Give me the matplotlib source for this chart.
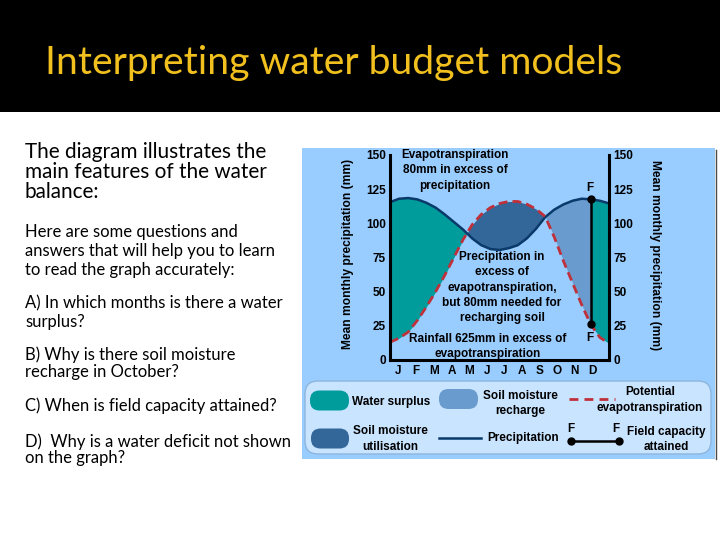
import matplotlib
matplotlib.use("Agg")
import matplotlib.pyplot as plt
from matplotlib.patches import Rectangle, FancyBboxPatch
import numpy as np

# ---------------- data ----------------
month_pos = [0, 0.5, 1, 1.5, 2, 2.5, 3, 3.5, 4, 4.5, 5, 5.5, 6, 6.5, 7, 7.5,
             8, 8.5, 9, 9.5, 10, 10.5, 11, 11.5, 12]
precipitation = [115.5, 118, 118.5, 117.5, 115, 111.5, 106.5, 101, 95.5, 89, 84,
                 81.2, 80.5, 81.8, 84, 89, 96, 104.5, 110, 113.8, 116.5, 118,
                 117.6, 116.5, 114.6]
potential_et = [13, 16, 20.5, 29, 39, 50, 62, 75, 88, 99, 106.5, 111.5, 114.5,
                116, 116, 114, 110.5, 105, 90, 72.5, 56.5, 40.5, 26, 16.5, 12.2]
field_capacity_month = 11
month_labels = ["J", "F", "M", "A", "M", "J", "J", "A", "S", "O", "N", "D"]
month_label_pos = [0.45, 1.42, 2.4, 3.37, 4.35, 5.3, 6.27, 7.25, 8.2, 9.15, 10.12, 11.1]
y_ticks = [0, 25, 50, 75, 100, 125, 150]

title = "Interpreting water budget models"
para1 = ["The diagram illustrates the", "main features of the water", "balance:"]
para2 = [
    ("Here are some questions and", 237),
    ("answers that will help you to learn", 256),
    ("to read the graph accurately:", 274.5),
    ("A) In which months is there a water", 308.5),
    ("surplus?", 327),
    ("B) Why is there soil moisture", 360),
    ("recharge in October?", 377),
    ("C) When is field capacity attained?", 411.5),
    ("D)  Why is a water deficit not shown", 446.5),
    ("on the graph?", 463.5),
]
# measured widths (px) of some reference lines, used to size the font
para2_widths = [("Here are some questions and", 225),
                ("answers that will help you to learn", 263),
                ("A) In which months is there a water", 260),
                ("B) Why is there soil moisture", 210),
                ("C) When is field capacity attained?", 253),
                ("D)  Why is a water deficit not shown", 262)]

# colours
TEAL = "#009B9B"
UTIL = "#336699"
RECH = "#6A9BCE"
PANEL = "#99CCFF"
LEGBG = "#C9E4FF"
NAVY = "#0A3A6A"
RED = "#C0303A"
YELLOW = "#F2C01E"

x = np.array(month_pos, dtype=float)
p = np.array(precipitation, dtype=float)
e = np.array(potential_et, dtype=float)

W, H = 720, 540
fig = plt.figure(figsize=(7.2, 5.4), dpi=100)
fig.patch.set_facecolor("white")

# background pixel-coordinate axes
bg = fig.add_axes([0, 0, 1, 1], zorder=0)
bg.set_xlim(0, W); bg.set_ylim(H, 0); bg.axis("off")
fg = fig.add_axes([0, 0, 1, 1], zorder=3)
fg.set_xlim(0, W); fg.set_ylim(H, 0); fg.axis("off")
fg.patch.set_visible(False)

renderer = fig.canvas.get_renderer()

def fit_size(s, width, **kw):
    t = fig.text(0, 0, s, fontsize=20, **kw)
    w = t.get_window_extent(renderer).width
    t.remove()
    return 20 * width / w

# header
bg.add_patch(Rectangle((0, 0), W, 112, facecolor="black", edgecolor="none"))
ts = fit_size(title, 580, family="Lato")
bg.text(45, 74, title, fontsize=ts, family="Lato", color=YELLOW, va="baseline", ha="left")

# left text
s1 = fit_size(para1[0], 242, family="Lato")
for line, yb in zip(para1, [158.5, 178.5, 198.5]):
    bg.text(25, yb, line, fontsize=s1, family="Lato", va="baseline", ha="left", color="black")
s2 = float(np.median([fit_size(s, w, family="Lato") for s, w in para2_widths]))
for line, yb in para2:
    bg.text(25, yb, line, fontsize=s2, family="Lato", va="baseline", ha="left", color="black")

# panel
bg.add_patch(Rectangle((302, 148), 413, 311, facecolor=PANEL, edgecolor="none"))
bg.plot([715.5, 715.5], [150, 459], color="#4a4a4a", lw=1)

# legend box
bg.add_patch(FancyBboxPatch((305, 381), 406, 73,
                            boxstyle="round,pad=0,rounding_size=13",
                            facecolor=LEGBG, edgecolor="#8DB6DD", lw=1))

# ---------------- chart axes ----------------
ax = fig.add_axes([390 / W, 180 / H, 219 / W, 205 / H], zorder=2)
ax.patch.set_visible(False)
ax.set_xlim(0, 12)
ax.set_ylim(0, 150)

# fills
left = x <= 6
ax.fill_between(x[left], p[left], e[left], where=p[left] >= e[left],
                interpolate=True, color=TEAL, lw=0)
ax.fill_between(x, p, e, where=e >= p, interpolate=True, color=UTIL, lw=0)
mid = (x >= 6) & (x <= field_capacity_month)
ax.fill_between(x[mid], p[mid], e[mid], where=p[mid] >= e[mid],
                interpolate=True, color=RECH, lw=0)
right = x >= field_capacity_month
ax.fill_between(x[right], p[right], e[right], color=TEAL, lw=0)

ax.plot(x, p, color=NAVY, lw=1.8, solid_capstyle="butt")
ax.plot(x, e, color=RED, lw=2.0, dashes=(3.2, 1.8))

fi = month_pos.index(field_capacity_month)
ax.plot([x[fi], x[fi]], [p[fi], e[fi]], color="black", lw=1.8,
        marker="o", ms=5, mfc="black", mec="black")

for side in ["left", "right", "bottom"]:
    ax.spines[side].set_linewidth(2.2)
    ax.spines[side].set_color("black")
ax.spines["top"].set_visible(False)
ax.set_yticks(y_ticks)
ax.set_xticks(month_label_pos)
ax.set_xticklabels(month_labels)
ax.tick_params(axis="y", length=0, pad=3, labelright=True, labelsize=8.5)
ax.tick_params(axis="x", length=0, pad=3.5, labelsize=8.5)
for lab in ax.get_xticklabels() + ax.get_yticklabels():
    lab.set_fontweight("bold")
    lab.set_family("Liberation Sans")
for tick in ax.yaxis.get_major_ticks():
    tick.label2.set_fontweight("bold")
    tick.label2.set_family("Liberation Sans")
    tick.label2.set_fontsize(8.5)

# axis titles
ylab = "Mean monthly precipitation (mm)"
ys = fit_size(ylab, 188, family="Liberation Sans", fontweight="bold")
fg.text(348, 254, ylab, rotation=90, fontsize=ys, family="Liberation Sans",
        fontweight="bold", ha="center", va="center")
fg.text(655, 255, ylab, rotation=270, fontsize=ys, family="Liberation Sans",
        fontweight="bold", ha="center", va="center")

# annotations
TK = dict(family="Liberation Sans", fontweight="bold", fontsize=8.5,
          ha="center", va="center", color="black")

def lines(xc, ys_, texts, **kw):
    for yy, tt in zip(ys_, texts):
        fg.text(xc, yy, tt, **{**TK, **kw})

lines(455, [155, 170, 185.5], ["Evapotranspiration", "80mm in excess of", "precipitation"])
lines(502, [257, 272, 287.5, 303, 318.5],
      ["Precipitation in", "excess of", "evapotranspiration,", "but 80mm needed for", "recharging soil"])
lines(488, [339.5, 354.5], ["Rainfall 625mm in excess of", "evapotranspiration"])
fg.text(589.5, 188, "F", **TK)
fg.text(589.5, 338, "F", **TK)

# legend items
def pill(x0, y0, w, h, color):
    bg.add_patch(FancyBboxPatch((x0, y0), w, h, boxstyle="round,pad=0,rounding_size=9.5",
                                facecolor=color, edgecolor="none"))

pill(310, 390.5, 39, 20, TEAL)
pill(439, 389, 39, 20, RECH)
pill(311, 428.5, 38, 20, UTIL)

fg.text(352, 401.5, "Water surplus", **{**TK, "ha": "left"})
lines(520, [396, 411], ["Soil moisture", "recharge"])
fg.plot([569, 615], [399, 399], color=RED, lw=2.0, dashes=(3.2, 2.2))
lines(650, [392, 407.5], ["Potential", "evapotranspiration"])
lines(390, [431.5, 447], ["Soil moisture", "utilisation"])
fg.plot([439, 481], [438, 438], color=NAVY, lw=1.8)
fg.text(487, 438, "Precipitation", **{**TK, "ha": "left"})
fg.plot([570.5, 618.5], [440.5, 440.5], color="black", lw=1.8, marker="o", ms=5)
fg.text(571, 428.5, "F", **TK)
fg.text(615.5, 428.5, "F", **TK)
lines(666, [431.5, 446.5], ["Field capacity", "attained"])

fig.savefig("out.png", dpi=100)
